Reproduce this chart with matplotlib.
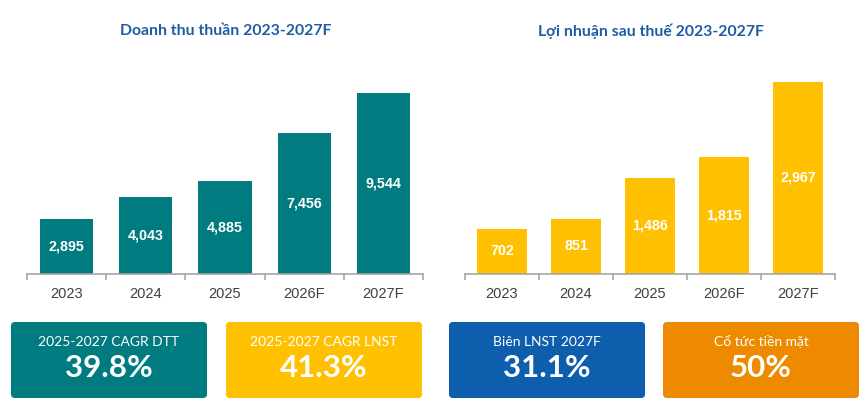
import matplotlib.pyplot as plt
import numpy as np
from matplotlib.patches import FancyBboxPatch

plt.rcParams['font.family'] = ['Lato', 'DejaVu Sans']

years = ['2023', '2024', '2025', '2026F', '2027F']
doanh_thu = [2895, 4043, 4885, 7456, 9544]
loi_nhuan = [702, 851, 1486, 1815, 2967]

box_labels = ['2025-2027 CAGR DTT', '2025-2027 CAGR LNST', 'Biên LNST 2027F', 'Cổ tức tiền mặt']
box_values = ['39.8%', '41.3%', '31.1%', '50%']

TEAL = '#007B80'
AMBER = '#FFC000'
BLUE = '#0E5EAE'
ORANGE = '#EE8A00'
TITLE = '#1F5CA6'
box_colors = [TEAL, AMBER, BLUE, ORANGE]

W, H = 867, 407
fig = plt.figure(figsize=(W / 100, H / 100), dpi=100)


def bar_panel(left_px, width_px, height_px, vals, ymax, color, title, title_x):
    ax = fig.add_axes([left_px / W, (H - 274) / H, width_px / W, height_px / H])
    x = np.arange(len(vals))
    bars = ax.bar(x, vals, width=0.67, color=color)
    for b, v in zip(bars, vals):
        ax.text(b.get_x() + b.get_width() / 2, v / 2, f'{v:,}', ha='center', va='center',
                color='white', fontsize=10.3, fontweight='bold', family='Liberation Sans')
    ax.set_xlim(-0.5, len(vals) - 0.5)
    ax.set_ylim(0, ymax)
    ax.set_xticks(x)
    ax.set_xticklabels(years, fontsize=10.5, color='#404040', family='Liberation Sans')
    ax.tick_params(axis='x', which='major', length=0, pad=9)
    ax.set_xticks(np.arange(-0.5, len(vals)), minor=True)
    ax.tick_params(axis='x', which='minor', length=4, width=1.2, color='#A6A6A6')
    ax.set_yticks([])
    for s in ['top', 'left', 'right']:
        ax.spines[s].set_visible(False)
    ax.spines['bottom'].set_color('#A6A6A6')
    ax.spines['bottom'].set_linewidth(1.2)
    ax.patch.set_visible(False)
    fig.text(title_x / W, 1 - 31 / H, title, ha='center', va='center', fontsize=11.3,
             fontweight='bold', color=TITLE)
    return ax


bar_panel(27, 396, 11000 * 181 / 9544, doanh_thu, 11000, TEAL, 'Doanh thu thuần 2023-2027F', 226)
bar_panel(465, 370, 3300 * 192 / 2967, loi_nhuan, 3300, AMBER, 'Lợi nhuận sau thuế 2023-2027F', 651)

# khung chỉ số phía dưới
bg = fig.add_axes([0, 0, 1, 1])
bg.set_xlim(0, W)
bg.set_ylim(H, 0)
bg.axis('off')
box_x = [11, 226, 449, 663]
for bx, lab, val, col in zip(box_x, box_labels, box_values, box_colors):
    bg.add_patch(FancyBboxPatch((bx + 4, 326), 196 - 8, 76 - 8,
                                boxstyle='round,pad=4', fc=col, ec='none'))
    bg.text(bx + 98, 342, lab, ha='center', va='center', color='white', fontsize=10)
    bg.text(bx + 98, 368, val, ha='center', va='center', color='white', fontsize=22.5,
            fontweight='bold')

fig.savefig('out.png', dpi=100)
